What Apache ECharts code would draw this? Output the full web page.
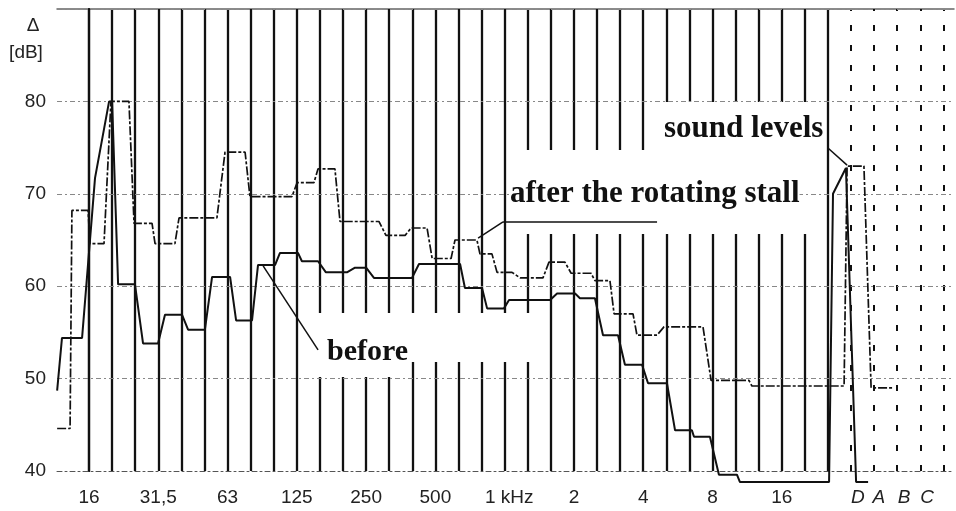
<!DOCTYPE html>
<html>
<head>
<meta charset="utf-8">
<script src="https://cdn.jsdelivr.net/npm/echarts@6/dist/echarts.min.js"></script>
<style>
html, body { margin: 0; background: #fff; }
#chart { width: 956px; height: 511px; }
</style>
</head>
<body>
<div id="chart"></div>
<script>
// x = band number (0 = 16 Hz, one step = one 1/3 octave), y = level in dB
var tickPos = [0, 3, 6, 9, 12, 15, 18.2, 21, 24, 27, 30, 33.3, 34.2, 35.3, 36.3];
var tickText = ['16', '31,5', '63', '125', '250', '500', '1 kHz', '2', '4', '8', '16', 'D', 'A', 'B', 'C'];
var solidBands = [0, 1, 2, 3, 4, 5, 6, 7, 8, 9, 10, 11, 12, 13, 14, 15, 16,
    17, 18, 19, 20, 21, 22, 23, 24, 25, 26, 27, 28, 29, 30, 31, 32];
var dashedBands = [33, 34, 35, 36, 37];

// pen trace: [band, dB]
var afterStall = [
    [-1.38, 44.6], [-0.82, 44.6], [-0.74, 68.2], [-0.04, 68.2], [0.04, 64.6], [0.65, 64.6],
    [0.95, 80], [1.73, 80], [1.95, 66.8], [2.73, 66.8], [2.86, 64.6], [3.72, 64.6],
    [3.90, 67.4], [5.54, 67.4], [5.89, 74.5], [6.76, 74.5], [6.97, 69.7], [8.79, 69.7],
    [9.01, 71.2], [9.74, 71.2], [9.92, 72.7], [10.65, 72.7], [10.87, 67], [12.56, 67],
    [12.86, 65.5], [13.69, 65.5], [13.95, 66.3], [14.64, 66.3], [14.86, 63], [15.68, 63],
    [15.85, 65], [16.80, 65], [16.93, 63.5], [17.45, 63.5], [17.67, 61.5], [18.32, 61.5],
    [18.67, 60.9], [19.66, 60.9], [19.92, 62.6], [20.61, 62.6], [20.88, 61.4], [21.74, 61.4],
    [21.91, 60.6], [22.56, 60.6], [22.74, 57], [23.56, 57], [23.73, 54.7], [24.60, 54.7],
    [24.90, 55.6], [26.59, 55.6], [26.94, 49.8], [28.58, 49.8], [28.71, 49.2], [32.70, 49.2],
    [32.83, 73], [33.56, 73], [33.87, 49], [34.78, 49]
];
var beforeStall = [
    [-1.38, 48.7], [-1.30, 48.7], [-1.17, 54.4], [-0.30, 54.4], [0.26, 71.7], [0.87, 80],
    [1.00, 80], [1.26, 60.2], [1.99, 60.2], [2.34, 53.8], [2.99, 53.8], [3.29, 56.9],
    [4.03, 56.9], [4.29, 55.3], [5.02, 55.3], [5.33, 61], [6.11, 61], [6.37, 56.3],
    [7.06, 56.3], [7.32, 62.3], [8.06, 62.3], [8.27, 63.6], [9.05, 63.6], [9.22, 62.7],
    [9.92, 62.7], [10.26, 61.5], [11.17, 61.5], [11.52, 62], [12.00, 62], [12.34, 60.9],
    [13.99, 60.9], [14.29, 62.4], [16.07, 62.4], [16.28, 59.8], [17.02, 59.8], [17.24, 57.6],
    [17.97, 57.6], [18.19, 58.5], [19.97, 58.5], [20.27, 59.2], [21.05, 59.2], [21.26, 58.7],
    [21.91, 58.7], [22.26, 54.7], [22.91, 54.7], [23.21, 51.5], [23.95, 51.5], [24.21, 49.5],
    [25.03, 49.5], [25.38, 44.4], [26.11, 44.4], [26.20, 43.7], [26.89, 43.7], [27.28, 39.6],
    [28.06, 39.6], [28.19, 38.8], [32.05, 38.8], [32.22, 70], [32.78, 72.8], [33.22, 38.8],
    [33.74, 38.8]
];

// leader lines of the labels, [band, dB] pairs
var leaders = [
    [[7.54, 62.2], [9.92, 53.1]],
    [[16.85, 65.2], [17.93, 66.95]],
    [[17.93, 66.95], [24.6, 66.95]],
    [[32.0, 74.95], [32.83, 73.1]]
];

var ink = '#111';
var sans = '"Liberation Sans", Arial, sans-serif';
var serif = '"Liberation Serif", "Times New Roman", serif';

var bandLines = solidBands.map(function (k) {
    return {xAxis: k, lineStyle: {color: ink, width: 2.3, type: 'solid'}};
}).concat(dashedBands.map(function (k) {
    return {xAxis: k, lineStyle: {color: ink, width: 2, type: [6, 14]}};
}));

var myChart = echarts.init(document.getElementById('chart'));
var option = {
    animation: false,
    grid: {left: 57, right: 2, top: 9, bottom: 40},
    xAxis: [{
        type: 'value',
        min: -1.386,
        max: 37.46,
        z: 3,
        axisLine: {lineStyle: {color: '#555', width: 1, type: [5, 3, 2, 3]}},
        axisTick: {show: false},
        splitLine: {show: false},
        axisLabel: {
            customValues: tickPos,
            margin: 17,
            color: '#222',
            fontSize: 19,
            fontFamily: sans,
            formatter: function (v) {
                var i = tickPos.indexOf(v);
                if (i < 0) return '';
                return i >= 11 ? '{it|' + tickText[i] + '}' : tickText[i];
            },
            rich: {it: {fontStyle: 'italic', fontSize: 19, color: '#222', fontFamily: sans}}
        }
    }, {
        type: 'value',
        position: 'top',
        min: -1.386,
        max: 37.46,
        axisLine: {lineStyle: {color: '#666', width: 1.5}},
        axisTick: {show: false},
        axisLabel: {show: false},
        splitLine: {show: false}
    }],
    yAxis: [{
        type: 'value',
        min: 40,
        max: 90,
        interval: 10,
        z: 3,
        axisLine: {show: true, lineStyle: {color: ink, width: 2.2}},
        axisTick: {show: false},
        axisLabel: {
            margin: 11,
            color: '#222',
            fontSize: 19,
            fontFamily: sans,
            formatter: function (v) { return v >= 90 ? '' : v; }
        },
        splitLine: {lineStyle: {color: '#888', width: 1, type: [5, 3, 2, 3]}}
    }, {
        type: 'value',
        position: 'right',
        min: 40,
        max: 90,
        axisLine: {show: true, lineStyle: {color: ink, width: 2}},
        axisTick: {show: false},
        axisLabel: {show: false},
        splitLine: {show: false}
    }],
    series: [{
        name: 'after the rotating stall',
        type: 'line',
        data: afterStall,
        showSymbol: false,
        clip: false,
        z: 4,
        lineStyle: {color: ink, width: 1.7, type: [9, 2, 3, 2]},
        markLine: {
            silent: true,
            symbol: 'none',
            z: 1,
            label: {show: false},
            data: bandLines
        }
    }, {
        name: 'before',
        type: 'line',
        data: beforeStall,
        showSymbol: false,
        clip: false,
        z: 4,
        lineStyle: {color: ink, width: 2},
        markLine: {
            silent: true,
            symbol: 'none',
            z: 5,
            label: {show: false},
            lineStyle: {color: ink, width: 1.5, type: 'solid'},
            data: leaders.map(function (p) {
                return [{coord: p[0]}, {coord: p[1]}];
            })
        }
    }],
    graphic: [
        // white patches where the band lines are broken for the labels
        {type: 'rect', z: 2, shape: {x: 652, y: 102, width: 170, height: 48}, style: {fill: '#fff'}},
        {type: 'rect', z: 2, shape: {x: 520, y: 150, width: 302, height: 84}, style: {fill: '#fff'}},
        {type: 'rect', z: 2, shape: {x: 315, y: 313, width: 87, height: 64}, style: {fill: '#fff'}},
        {type: 'rect', z: 2, shape: {x: 402, y: 313, width: 138, height: 49}, style: {fill: '#fff'}},
        {type: 'text', z: 6, x: 664, y: 144, style: {text: 'sound levels', font: 'bold 31px ' + serif, fill: ink, align: 'left', verticalAlign: 'bottom', backgroundColor: '#fff'}},
        {type: 'text', z: 6, x: 510, y: 209, style: {text: 'after the rotating stall', font: 'bold 31px ' + serif, fill: ink, align: 'left', verticalAlign: 'bottom', backgroundColor: '#fff'}},
        {type: 'text', z: 6, x: 327, y: 367, style: {text: 'before', font: 'bold 30px ' + serif, fill: ink, align: 'left', verticalAlign: 'bottom', backgroundColor: '#fff'}},
        {type: 'text', z: 6, x: 33, y: 26, style: {text: 'Δ', font: '19px ' + sans, fill: '#222', align: 'center', verticalAlign: 'middle'}},
        {type: 'text', z: 6, x: 26, y: 53, style: {text: '[dB]', font: '19px ' + sans, fill: '#222', align: 'center', verticalAlign: 'middle'}}
    ]
};
myChart.setOption(option);
</script>
</body>
</html>
